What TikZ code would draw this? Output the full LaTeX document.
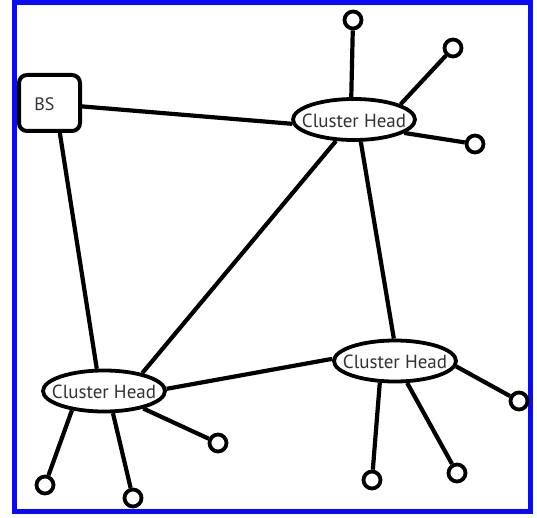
\documentclass[tikz,border=0pt]{standalone}
\usepackage{fontspec}
\setmainfont{PT Sans}
\usetikzlibrary{shapes.geometric}
\definecolor{frameblue}{RGB}{10,10,250}
\definecolor{txt}{RGB}{50,50,50}
\begin{document}
\begin{tikzpicture}[x=1pt,y=-1pt,
  conn/.style={line width=4.2pt, black},
  chead/.style={ellipse, draw, line width=3.8pt, minimum width=122pt, minimum height=41pt, inner sep=0pt, fill=white},
  chtext/.style={text=txt, font=\fontsize{19}{22}\selectfont, inner sep=0pt},
  bstext/.style={text=txt, font=\fontsize{18}{21}\selectfont, inner sep=0pt},
  bsbox/.style={rectangle, draw, line width=4pt, rounded corners=8pt, minimum width=61pt, minimum height=56pt, inner sep=0pt, fill=white},
  snode/.style={circle, draw, line width=3.8pt, minimum size=17pt, inner sep=0pt, fill=white}
]
\useasboundingbox (0,0) rectangle (537,518);
\draw[frameblue, line width=5pt] (14,2.5) rectangle (530.5,511);

\node[bsbox, label={[bstext, xshift=-5pt, yshift=-1pt]center:BS}] (bs) at (49.5,103) {};
\node[chead, label={[chtext, yshift=-1pt]center:Cluster Head}] (ch1) at (354,119.5) {};
\node[chead, label={[chtext, yshift=-1pt]center:Cluster Head}] (ch3) at (104,391) {};
\node[chead, label={[chtext, yshift=-1pt]center:Cluster Head}] (ch2) at (395,361) {};

\node[snode] (a1) at (353,20) {};
\node[snode] (a2) at (453,48) {};
\node[snode] (a3) at (475,144) {};
\node[snode] (c1) at (45,485) {};
\node[snode] (c2) at (133,498) {};
\node[snode] (c3) at (218,443) {};
\node[snode] (b1) at (372,480) {};
\node[snode] (b2) at (457,473) {};
\node[snode] (b3) at (519,401) {};

\draw[conn] (bs.-6) -- (ch1.184);
\draw[conn] (bs.-71) -- (ch3.108);
\draw[conn] (ch1.230) -- (ch3.25);
\draw[conn] (ch1.-73) -- (ch2.93);
\draw[conn] (ch3.2) -- (ch2.178);

\draw[conn] (ch1.97) -- (a1);
\draw[conn] (ch1.18) -- (a2);
\draw[conn] (ch1.-15) -- (a3);

\draw[conn] (ch3.211) -- (c1);
\draw[conn] (ch3.-68) -- (c2);
\draw[conn] (ch3.-24) -- (c3);

\draw[conn] (ch2.-125) -- (b1);
\draw[conn] (ch2.-61) -- (b2);
\draw[conn] (ch2.-5) -- (b3);
\end{tikzpicture}
\end{document}
